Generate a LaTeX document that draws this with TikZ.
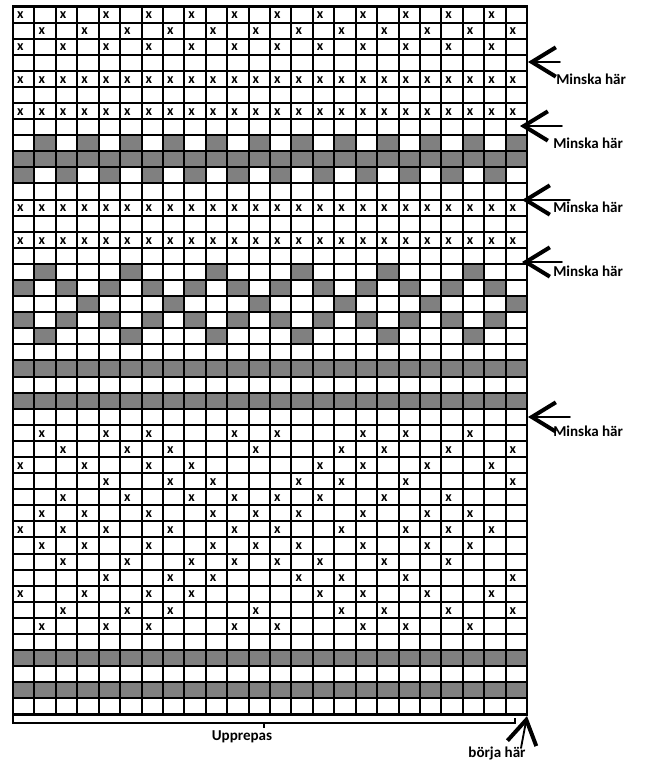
\documentclass[tikz,border=0pt]{standalone}
\usepackage{fontspec}
\setmainfont{Carlito}
\usetikzlibrary{arrows.meta}

\begin{document}
\begin{tikzpicture}[x=0.75pt, y=-0.75pt,
    gridline/.style={line width=1.5pt},
    border/.style={line width=1.9pt},
    graycell/.style={fill=gray},
    stitch/.style={font=\fontsize{10.5}{10.5}\selectfont\bfseries, inner sep=0pt, anchor=west},
    note/.style={font=\fontsize{11.3}{13}\selectfont\bfseries, inner sep=0pt},
    pil/.style={line width=1.4pt, line cap=round,
      -{Straight Barb[length=18pt, width=22pt, line width=3pt]}},
    brace/.style={line width=1.3pt}]
  \useasboundingbox (0,0) rectangle (646,762);

  % the chart, one unit per cell
  \begin{scope}[shift={(13,6.5)}, x=16.063pt, y=-12.0675pt]
    \foreach \r in {10,23,25,41,43}
      \fill[graycell] (0,\r-1) rectangle (24,\r);
    \foreach \r/\cols in {9/{2,4,...,24}, 11/{1,3,...,23}, 17/{2,6,...,22},
        18/{1,3,...,23}, 19/{4,8,...,24}, 20/{1,3,...,23}, 21/{2,6,...,22}}
      \foreach \c in \cols
        \fill[graycell] (\c-1,\r-1) rectangle (\c,\r);
    \foreach \r/\cols in {1/{1,3,...,23}, 2/{2,4,...,24}, 3/{1,3,...,23},
        5/{1,...,24}, 7/{1,...,24}, 13/{1,...,24}, 15/{1,...,24},
        27/{2,5,7,11,13,17,19,22}, 28/{3,6,8,12,16,18,21,24},
        29/{1,4,7,9,15,17,20,23}, 30/{5,8,10,14,16,19,24},
        31/{3,6,9,11,13,15,18,21}, 32/{2,4,7,10,12,14,17,20,22},
        33/{1,3,5,8,11,13,16,19,21,23}, 34/{2,4,7,10,12,14,17,20,22},
        35/{3,6,9,11,13,15,18,21}, 36/{5,8,10,14,16,19,24},
        37/{1,4,7,9,15,17,20,23}, 38/{3,6,8,12,16,18,21,24},
        39/{2,5,7,11,13,17,19,22}}
      \foreach \c in \cols
        \node[stitch] (x\r-\c) at (\c-0.82,\r-0.45) {x};
    \foreach \c in {1,...,23}
      \draw[gridline] (\c,0) -- (\c,44);
    \foreach \r in {1,...,43}
      \draw[gridline] (0,\r) -- (24,\r);
    \draw[border] (0,0) rectangle (24,44);
  \end{scope}

  % markers on the right
  \node[note, anchor=west] (minska1) at (556,79) {Minska här};
  \node[note, anchor=west] (minska2) at (553,143) {Minska här};
  \node[note, anchor=west] (minska3) at (553,207) {Minska här};
  \node[note, anchor=west] (minska4) at (553,271) {Minska här};
  \node[note, anchor=west] (minska5) at (553,431) {Minska här};
  \coordinate (s1) at (560,62);  \coordinate (e1) at (528,62);
  \coordinate (s2) at (562,126); \coordinate (e2) at (520,126);
  \coordinate (s3) at (570,200); \coordinate (e3) at (522,200);
  \coordinate (s4) at (562,262); \coordinate (e4) at (522,262);
  \coordinate (s5) at (570,417); \coordinate (e5) at (528,417);
  \draw[pil] (s1) -- (e1);
  \draw[pil] (s2) -- (e2);
  \draw[pil] (s3) -- (e3);
  \draw[pil] (s4) -- (e4);
  \draw[pil] (s5) -- (e5);

  % repeat brace and start
  \coordinate (b1) at (13,716);  \coordinate (b2) at (13,723);
  \coordinate (b3) at (515,723); \coordinate (b4) at (515,718);
  \coordinate (bm) at (264,723); \coordinate (bt) at (264,728);
  \draw[brace] (b1) -- (b2) -- (b3) -- (b4);
  \draw[brace] (bm) -- (bt);
  \node[note] (upprepas) at (242,737) {Upprepas};
  \coordinate (s6) at (521,748); \coordinate (e6) at (527,716);
  \draw[pil] (s6) -- (e6);
  \node[note] (borja) at (497,753) {börja här};
\end{tikzpicture}
\end{document}
